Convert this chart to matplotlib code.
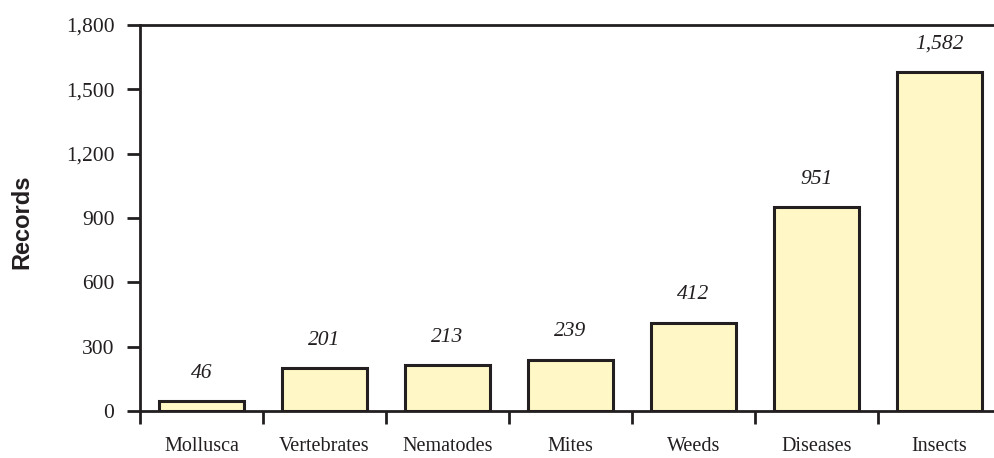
import matplotlib
matplotlib.use("Agg")
import matplotlib.pyplot as plt
from matplotlib.ticker import FuncFormatter, FixedLocator

categories = ["Mollusca", "Vertebrates", "Nematodes", "Mites", "Weeds", "Diseases", "Insects"]
records = [46, 201, 213, 239, 412, 951, 1582]
value_labels = ["46", "201", "213", "239", "412", "951", "1,582"]
yticks = [0, 300, 600, 900, 1200, 1500, 1800]

ink = "#231f20"
fill = "#fff8c6"
serif = ["Liberation Serif", "DejaVu Serif"]

fig = plt.figure(figsize=(9.94, 4.58), dpi=100)
ax = fig.add_axes([140 / 994, 47 / 458, 861 / 994, 386 / 458])

x = list(range(len(categories)))
ax.bar(x, records, width=0.69, color=fill, edgecolor=ink, linewidth=2.2, zorder=2)

for xi, v, lab in zip(x, records, value_labels):
    ax.annotate(lab, (xi, v), xytext=(0, 20), textcoords="offset points",
                ha="center", va="center", fontsize=15.5, style="italic",
                family=serif, color=ink)

ax.set_xlim(-0.5, 6.5)
ax.set_ylim(0, 1800)

# boundary ticks between categories, labels centred under each bar
ax.xaxis.set_major_locator(FixedLocator([i - 0.5 for i in range(len(categories) + 1)]))
ax.xaxis.set_major_formatter(FuncFormatter(lambda v, p: ""))
ax.xaxis.set_minor_locator(FixedLocator(x))
ax.set_xticklabels(categories, minor=True)
ax.tick_params(axis="x", which="major", direction="out", length=9, width=2, color=ink)
ax.tick_params(axis="x", which="minor", length=0, pad=19, labelsize=14.5, labelcolor=ink)
for t in ax.get_xticklabels(minor=True):
    t.set_family(serif)

ax.set_yticks(yticks)
ax.yaxis.set_major_formatter(FuncFormatter(lambda v, p: f"{int(v):,}"))
ax.tick_params(axis="y", direction="out", length=9.5, width=2, color=ink,
               labelsize=15.5, labelcolor=ink, pad=9)
for t in ax.get_yticklabels():
    t.set_family(serif)

for side in ("left", "top", "bottom"):
    ax.spines[side].set_linewidth(2)
    ax.spines[side].set_color(ink)
    ax.spines[side].set_zorder(3)
ax.spines["right"].set_visible(False)

fig.text(22 / 994, 1 - 222 / 458, "Records", rotation=90, ha="center", va="center",
         fontsize=17, fontweight="bold", family=["Liberation Sans", "DejaVu Sans"], color=ink)

fig.savefig("out.png", dpi=100)
